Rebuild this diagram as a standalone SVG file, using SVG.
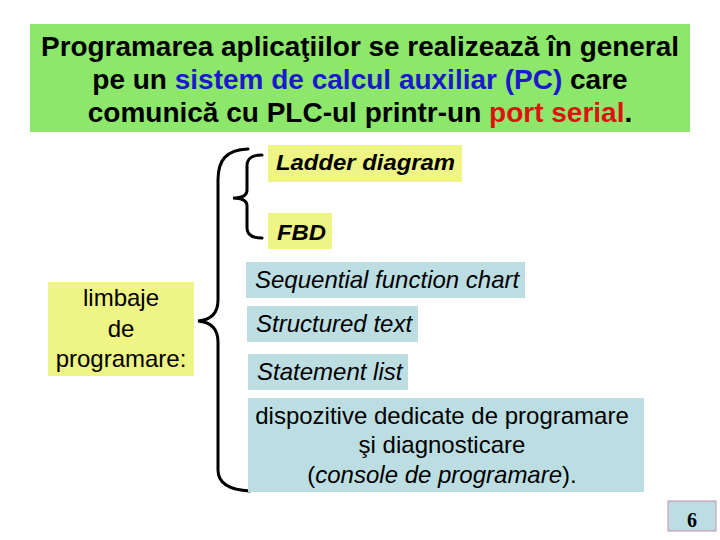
<svg xmlns="http://www.w3.org/2000/svg" width="720" height="540" viewBox="0 0 720 540">
<style>
.t{font-family:"Liberation Sans",Arial,sans-serif;fill:#000}
.title{font-size:28px;font-weight:bold;text-anchor:middle}
.it{font-size:24px;font-style:italic}
.bi{font-size:22px;font-style:italic;font-weight:bold}
.n{font-size:24px;text-anchor:middle}
.yel{fill:#EEF584}
.blu{fill:#BCDEE3}
.br{fill:none;stroke:#000;stroke-width:3;stroke-linecap:round}
</style>
<rect width="720" height="540" fill="#fff"/>
<g id="title">
<rect x="30" y="24" width="660" height="108" fill="#8DE76B"/>
<text class="t title" x="360" y="56" textLength="638" lengthAdjust="spacingAndGlyphs">Programarea aplicaţiilor se realizează în general</text>
<text class="t title" x="360" y="89">pe un <tspan fill="#1A1ACC">sistem de calcul auxiliar (PC)</tspan> care</text>
<text class="t title" x="360" y="122">comunică cu PLC-ul printr-un <tspan fill="#E01010">port serial</tspan>.</text>
</g>
<g id="connectors">
<path class="br" d="M248,149 C226,150 218,160 218,180 L218,300 C218,314 210,320 198,321 C210,322 218,328 218,342 L218,470 C218,484 230,490 250,491"/>
<path class="br" d="M262,155 C252,155 247,158 247,166 L247,190 C247,195 242,198 233,198 C242,198 247,201 247,206 L247,228 C247,235 252,238 262,238"/>
</g>
<g id="limbaje">
<rect class="yel" x="48" y="282" width="146" height="94"/>
<text class="t n" x="121" y="306">limbaje</text>
<text class="t n" x="121" y="337">de</text>
<text class="t n" x="121" y="367">programare:</text>
</g>
<g id="ladder">
<rect class="yel" x="268" y="145" width="194" height="37"/>
<text class="t bi" x="276" y="170" textLength="179" lengthAdjust="spacingAndGlyphs">Ladder diagram</text>
</g>
<g id="fbd">
<rect class="yel" x="268" y="213" width="64" height="36"/>
<text class="t bi" x="277" y="240" textLength="49" lengthAdjust="spacingAndGlyphs">FBD</text>
</g>
<g id="sfc">
<rect class="blu" x="246" y="262" width="279" height="36"/>
<text class="t it" x="255" y="288">Sequential function chart</text>
</g>
<g id="st">
<rect class="blu" x="247" y="306" width="171" height="36"/>
<text class="t it" x="256" y="332">Structured text</text>
</g>
<g id="sl">
<rect class="blu" x="248" y="354" width="160" height="36"/>
<text class="t it" x="257" y="380">Statement list</text>
</g>
<g id="dispozitive">
<rect class="blu" x="248" y="398" width="396" height="94"/>
<text class="t n" x="442" y="424">dispozitive dedicate de programare</text>
<text class="t n" x="442" y="453">şi diagnosticare</text>
<text class="t n" x="442" y="483">(<tspan font-style="italic">console de programare</tspan>).</text>
</g>
<g id="page">
<rect x="668" y="501" width="48" height="30" fill="#BCDEE3" stroke="#C890B0" stroke-width="1"/>
<text x="692" y="527" font-family="Liberation Serif,serif" font-size="20" font-weight="bold" text-anchor="middle">6</text>
</g>
</svg>
